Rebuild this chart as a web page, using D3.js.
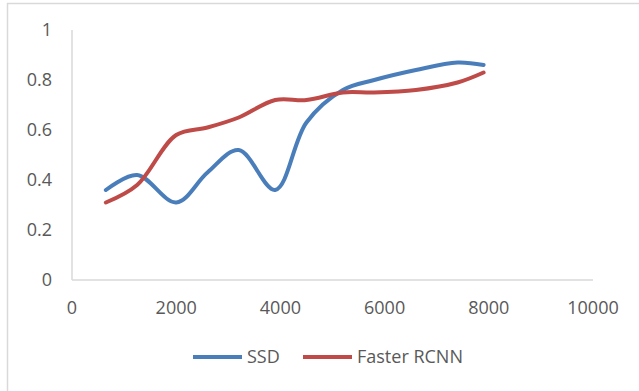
<!DOCTYPE html>
<html>
<head>
<meta charset="utf-8">
<script src="https://cdn.jsdelivr.net/npm/d3@7"></script>
<style>
  body { margin: 0; background: #fff; }
  text { font-family: "Open Sans", sans-serif; fill: #595959; }
</style>
</head>
<body>
<div id="chart"></div>
<script>
var xTicks = [0, 2000, 4000, 6000, 8000, 10000];
var yTicks = [0, 0.2, 0.4, 0.6, 0.8, 1];

var ssdX = [650, 1250, 2000, 2600, 3200, 3900, 4500, 5200, 5800, 6600, 7400, 7900];
var ssdY = [0.36, 0.42, 0.31, 0.43, 0.52, 0.36, 0.63, 0.76, 0.80, 0.84, 0.87, 0.86];

var rcnnX = [650, 1250, 2000, 2600, 3200, 3900, 4500, 5200, 5800, 6600, 7400, 7900];
var rcnnY = [0.31, 0.38, 0.58, 0.61, 0.65, 0.72, 0.72, 0.75, 0.75, 0.76, 0.79, 0.83];

var seriesNames = ["SSD", "Faster RCNN"];
var seriesColors = ["#4a7ebb", "#be4b48"];

var width = 639;
var height = 391;

var svg = d3.select("#chart")
    .append("svg")
    .attr("width", width)
    .attr("height", height);

// outer chart frame
svg.append("rect")
    .attr("x", 7.5)
    .attr("y", 3.5)
    .attr("width", 700)
    .attr("height", 500)
    .attr("fill", "none")
    .attr("stroke", "#d9d9d9")
    .attr("stroke-width", 1.5);

var x = d3.scaleLinear()
    .domain([0, 10000])
    .range([72, 593]);

var y = d3.scaleLinear()
    .domain([0, 1])
    .range([280, 30]);

// axis lines
svg.append("line")
    .attr("x1", x(0)).attr("x2", x(0))
    .attr("y1", y(1)).attr("y2", y(0))
    .attr("stroke", "#d9d9d9")
    .attr("stroke-width", 1.5);

svg.append("line")
    .attr("x1", x(0)).attr("x2", x(10000))
    .attr("y1", y(0)).attr("y2", y(0))
    .attr("stroke", "#d9d9d9")
    .attr("stroke-width", 1.5);

// tick labels
svg.selectAll(".ylab")
    .data(yTicks)
    .enter().append("text")
    .attr("class", "ylab")
    .attr("x", 52)
    .attr("y", function (d) { return y(d); })
    .attr("dy", "0.35em")
    .attr("text-anchor", "end")
    .attr("font-size", "18px")
    .text(function (d) { return d; });

svg.selectAll(".xlab")
    .data(xTicks)
    .enter().append("text")
    .attr("class", "xlab")
    .attr("x", function (d) { return x(d); })
    .attr("y", 308)
    .attr("dy", "0.35em")
    .attr("text-anchor", "middle")
    .attr("font-size", "18px")
    .text(function (d) { return d; });

var line = d3.line()
    .curve(d3.curveCatmullRom)
    .x(function (d) { return x(d[0]); })
    .y(function (d) { return y(d[1]); });

var series = [
    d3.zip(ssdX, ssdY),
    d3.zip(rcnnX, rcnnY)
];

svg.selectAll(".series")
    .data(series)
    .enter().append("path")
    .attr("class", "series")
    .attr("fill", "none")
    .attr("stroke", function (d, i) { return seriesColors[i]; })
    .attr("stroke-width", 4)
    .attr("stroke-linecap", "round")
    .attr("stroke-linejoin", "round")
    .attr("d", line);

// legend
var legendX = [193, 303];
var legend = svg.selectAll(".legend")
    .data(seriesNames)
    .enter().append("g")
    .attr("class", "legend")
    .attr("transform", function (d, i) { return "translate(" + legendX[i] + ",357)"; });

legend.append("line")
    .attr("x1", 0).attr("x2", 49)
    .attr("y1", 0).attr("y2", 0)
    .attr("stroke", function (d, i) { return seriesColors[i]; })
    .attr("stroke-width", 4);

legend.append("text")
    .attr("x", 54)
    .attr("y", 0)
    .attr("dy", "0.35em")
    .attr("font-size", "18px")
    .text(function (d) { return d; });
</script>
</body>
</html>
